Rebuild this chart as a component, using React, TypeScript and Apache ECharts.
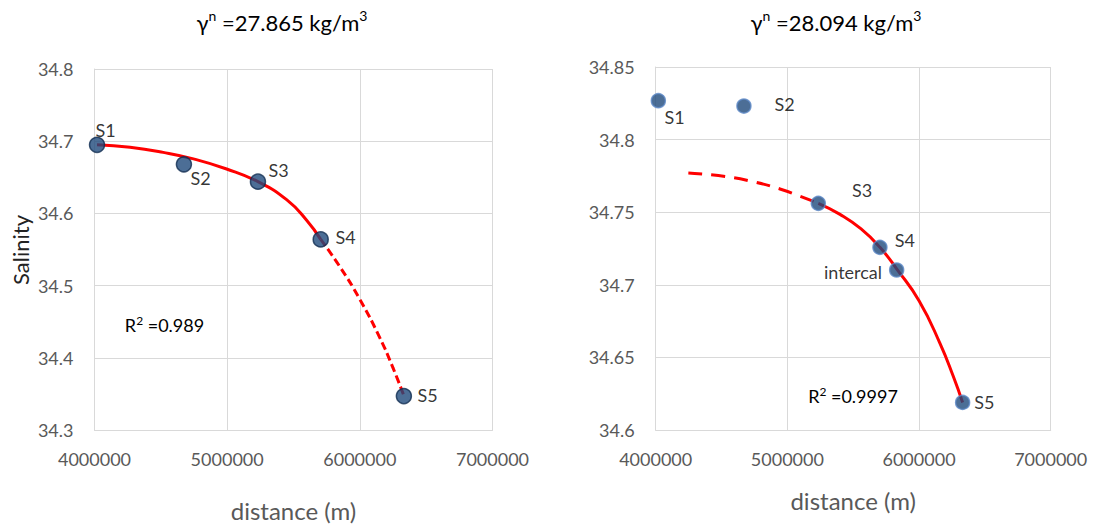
import React, { useEffect, useRef } from "react";
import * as echarts from "echarts";

// ---------- data: left panel (γn = 27.865) ----------
const leftTitle = "γ{sup|n} =27.865 kg/m{sup|3}";
const leftStations = ["S1", "S2", "S3", "S4", "S5"];
const leftDistance = [4019000, 4674000, 5232000, 5705000, 6332000];
const leftSalinity = [34.695, 34.668, 34.644, 34.564, 34.347];
const leftFitSolidX = [4019000, 4268000, 4518000, 4746000, 4996000, 5232000, 5448000, 5599000, 5705000];
const leftFitSolidY = [34.695, 34.6915, 34.6845, 34.6755, 34.6615, 34.644, 34.619, 34.5905, 34.564];
const leftFitDashX = [5705000, 5850000, 6000000, 6150000, 6250000, 6332000];
const leftFitDashY = [34.564, 34.526, 34.481, 34.428, 34.386, 34.3475];
const leftR2 = "R{sup|2} =0.989";
const leftYTicks = { min: 34.3, max: 34.8, interval: 0.1 };

// ---------- data: right panel (γn = 28.094) ----------
const rightTitle = "γ{sup|n} =28.094 kg/m{sup|3}";
const rightStations = ["S1", "S2", "S3", "S4", "intercal", "S5"];
const rightDistance = [4020000, 4670000, 5235000, 5703000, 5830000, 6331000];
const rightSalinity = [34.8268, 34.8231, 34.7561, 34.7258, 34.7102, 34.619];
const rightFitDashX = [4248000, 4539000, 4741000, 4944000, 5096000, 5235000];
const rightFitDashY = [34.777, 34.7745, 34.771, 34.766, 34.761, 34.7561];
const rightFitSolidX = [5235000, 5400000, 5560000, 5703000, 5830000, 6000000, 6159000, 6260000, 6331000];
const rightFitSolidY = [34.7561, 34.7485, 34.7385, 34.7258, 34.711, 34.689, 34.6597, 34.637, 34.619];
const rightR2 = "R{sup|2} =0.9997";
const rightYTicks = { min: 34.6, max: 34.85, interval: 0.05 };

const xTicks = { min: 4000000, max: 7000000, interval: 1000000 };
const xName = "distance (m)";
const yName = "Salinity";

// ---------- styling (label offsets relative to marker centre) ----------
const leftLabelOffsets: Record<string, [number, number]> = {
  S1: [8.5, -15.3],
  S2: [16.8, 14],
  S3: [20.7, -11.6],
  S4: [25, -2],
  S5: [23.8, -0.7],
};
const rightLabelOffsets: Record<string, [number, number]> = {
  S1: [16.2, 16],
  S2: [40.7, -1.8],
  S3: [43.7, -13.8],
  S4: [25, -7],
  intercal: [-43.7, 1.8],
  S5: [21.8, -0.6],
};

const FONT = "Lato";
const GRID_COLOR = "#d9d9d9";
const AXIS_TEXT = "#595959";
const RED = "#ff0000";

const zip = (xs: number[], ys: number[]) => xs.map((x, i) => [x, ys[i]]);

function scatterData(names: string[], xs: number[], ys: number[], offsets: Record<string, [number, number]>) {
  return names.map((n, i) => ({
    name: n,
    value: [xs[i], ys[i]],
    label: {
      show: true,
      formatter: n,
      position: "inside",
      align: "center",
      verticalAlign: "middle",
      offset: offsets[n],
      color: "#000",
      fontSize: 18,
      fontFamily: FONT,
    },
  }));
}

function xAxisCfg(gridIndex: number, nameGap: number) {
  return {
    type: "value",
    gridIndex,
    min: xTicks.min,
    max: xTicks.max,
    interval: xTicks.interval,
    name: xName,
    nameLocation: "middle",
    nameGap,
    nameTextStyle: { fontSize: 24, color: AXIS_TEXT, fontFamily: FONT },
    axisLine: { show: true, lineStyle: { color: GRID_COLOR, width: 1 } },
    axisTick: { show: false },
    axisLabel: {
      margin: 20,
      fontSize: 18,
      color: AXIS_TEXT,
      fontFamily: FONT,
      formatter: (v: number) => String(v),
    },
    splitLine: { show: true, lineStyle: { color: GRID_COLOR, width: 1 } },
  };
}

function yAxisCfg(gridIndex: number, t: { min: number; max: number; interval: number }) {
  return {
    type: "value",
    gridIndex,
    min: t.min,
    max: t.max,
    interval: t.interval,
    axisLine: { show: true, lineStyle: { color: GRID_COLOR, width: 1 } },
    axisTick: { show: false },
    axisLabel: {
      margin: 21,
      fontSize: 18,
      color: AXIS_TEXT,
      fontFamily: FONT,
      formatter: (v: number) => String(+v.toFixed(2)),
    },
    splitLine: { show: true, lineStyle: { color: GRID_COLOR, width: 1 } },
  };
}

function richText(text: string, x: number, y: number, size: number, supSize: number) {
  return {
    type: "text",
    x,
    y,
    style: {
      text,
      fontSize: size,
      fontFamily: FONT,
      fill: "#000",
      align: "center",
      verticalAlign: "middle",
      lineHeight: size * 1.2,
      rich: {
        sup: {
          fontSize: supSize,
          fontFamily: FONT,
          fill: "#000",
          verticalAlign: "top",
          lineHeight: size * 1.2,
          padding: [0, 0, size * 0.45, 0],
        },
      },
    },
  };
}

export default function App() {
  const ref = useRef<HTMLDivElement>(null);

  useEffect(() => {
    if (!ref.current) return;
    const chart = echarts.init(ref.current, null, { renderer: "svg" });

    const lineBase = {
      type: "line",
      symbol: "none",
      smooth: true,
      silent: true,
      z: 2,
    };

    chart.setOption({
      animation: false,
      backgroundColor: "#ffffff",
      grid: [
        { left: 94.5, top: 69, width: 398, height: 361 },
        { left: 655.7, top: 67, width: 395, height: 363 },
      ],
      xAxis: [xAxisCfg(0, 68), xAxisCfg(1, 58)],
      yAxis: [yAxisCfg(0, leftYTicks), yAxisCfg(1, rightYTicks)],
      series: [
        {
          ...lineBase,
          xAxisIndex: 0,
          yAxisIndex: 0,
          data: zip(leftFitSolidX, leftFitSolidY),
          lineStyle: { color: RED, width: 3 },
        },
        {
          ...lineBase,
          xAxisIndex: 0,
          yAxisIndex: 0,
          data: zip(leftFitDashX, leftFitDashY),
          lineStyle: { color: RED, width: 3, type: [8, 4] },
        },
        {
          ...lineBase,
          xAxisIndex: 1,
          yAxisIndex: 1,
          data: zip(rightFitDashX, rightFitDashY),
          lineStyle: { color: RED, width: 3, type: [14, 9] },
        },
        {
          ...lineBase,
          xAxisIndex: 1,
          yAxisIndex: 1,
          data: zip(rightFitSolidX, rightFitSolidY),
          lineStyle: { color: RED, width: 3 },
        },
        {
          type: "scatter",
          xAxisIndex: 0,
          yAxisIndex: 0,
          symbolSize: 15,
          z: 5,
          itemStyle: { color: "#1f4a7c", borderColor: "#0f2c50", borderWidth: 1.5 },
          data: scatterData(leftStations, leftDistance, leftSalinity, leftLabelOffsets),
        },
        {
          type: "scatter",
          xAxisIndex: 1,
          yAxisIndex: 1,
          symbolSize: 14,
          z: 5,
          itemStyle: { color: "#1f4a7c", borderColor: "#5b87c5", borderWidth: 1.5 },
          data: scatterData(rightStations, rightDistance, rightSalinity, rightLabelOffsets),
        },
      ],
      graphic: [
        richText(leftTitle, 282, 22, 22, 14),
        richText(rightTitle, 836, 22, 22, 14),
        richText(leftR2, 164.5, 325, 18, 12),
        richText(rightR2, 853, 396, 18, 12),
        {
          type: "text",
          x: 20,
          y: 250,
          rotation: Math.PI / 2,
          style: { text: yName, fontSize: 22, fontFamily: FONT, fill: "#222", align: "center", verticalAlign: "middle" },
        },
      ],
    });

    return () => chart.dispose();
  }, []);

  return (
    <div
      ref={ref}
      style={{ position: "fixed", left: 0, top: 0, width: 1093, height: 527 }}
    />
  );
}
